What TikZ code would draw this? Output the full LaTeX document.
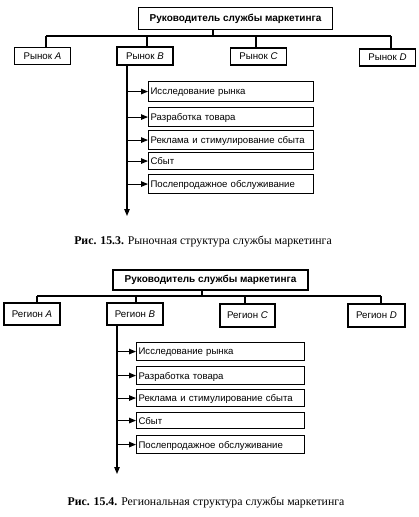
\documentclass[tikz,border=0pt]{standalone}
\usepackage{fontspec}
\setmainfont{Liberation Serif}
\setsansfont{Liberation Sans}
\usetikzlibrary{arrows.meta}
\tikzset{
  ln/.style={line width=1.1pt},
  headbox/.style={draw, line width=1.1pt, font=\sffamily\bfseries\fontsize{10}{12}\selectfont, inner sep=0pt},
  unitbox/.style={draw, line width=1.1pt, font=\sffamily\fontsize{9.7}{11}\selectfont, minimum width=56pt, minimum height=17pt, inner sep=0pt},
  subbox/.style={draw, line width=1.1pt, font=\sffamily\fontsize{9.6}{11}\selectfont, anchor=north west, inner sep=0pt, inner xsep=2pt, text depth=0pt, align=left},
  arr/.style={line width=1.1pt, -{Triangle[length=7pt,width=5.5pt]}},
  caption/.style={font=\fontsize{11.8}{14}\selectfont}
}
\begin{document}
\begin{tikzpicture}[x=1pt,y=-1pt]
\useasboundingbox (0,0) rectangle (419,517);
% ---------------- top diagram ----------------
\node[headbox, minimum width=194pt, minimum height=22pt] (h1) at (235.5,18.5) {Руководитель службы маркетинга};
\coordinate (h1d) at (213,36);
\coordinate (h1l) at (46,36);
\coordinate (h1r) at (391,36);
\node[unitbox] (ma) at (42.5,56) {Рынок \textit{A}};
\node[unitbox, minimum height=18pt] (mb) at (145,56) {Рынок \textit{B}};
\node[unitbox] (mc) at (258.5,56.5) {Рынок \textit{C}};
\node[unitbox] (md) at (387.5,57.5) {Рынок \textit{D}};
\draw[ln] (213,0 |- h1.south) -- (h1d);
\draw[ln] (h1l) -- (h1r);
\draw[ln] (h1l) -- (46,0 |- ma.north);
\draw[ln] (147,36) -- (147,0 |- mb.north);
\draw[ln] (256,36) -- (256,0 |- mc.north);
\draw[ln] (h1r) -- (391,0 |- md.north);
\coordinate (v1) at (127,0 |- mb.south);
\coordinate (v1e) at (127,216);
\draw[arr] (v1) -- (v1e);
\node[subbox, minimum width=165pt, text width=161pt, minimum height=20pt] (s11) at (148,81) {Исследование рынка};
\node[subbox, minimum width=165pt, text width=161pt, minimum height=19pt] (s12) at (148,107) {Разработка товара};
\node[subbox, minimum width=165pt, text width=161pt, minimum height=19pt] (s13) at (148,130) {Реклама и стимулирование сбыта};
\node[subbox, minimum width=165pt, text width=161pt, minimum height=17pt] (s14) at (148,152) {Сбыт};
\node[subbox, minimum width=165pt, text width=161pt, minimum height=19pt] (s15) at (148,174) {Послепродажное обслуживание};
\foreach \n in {s11,s12,s13,s14,s15}{
  \draw[arr] (127,0 |- \n.west) -- (\n.west);
}
\node[caption] (c1) at (203,242) {\textbf{Рис. 15.3.} Рыночная структура службы маркетинга};
% ---------------- bottom diagram ----------------
\node[headbox, minimum width=195pt, minimum height=20pt] (h2) at (210.5,280) {Руководитель службы маркетинга};
\coordinate (h2d) at (202,296);
\coordinate (h2l) at (37,296);
\coordinate (h2r) at (381,296);
\node[unitbox, minimum height=22pt] (ra) at (32,314) {Регион \textit{A}};
\node[unitbox, minimum height=22pt] (rb) at (135,314) {Регион \textit{B}};
\node[unitbox, minimum height=23pt, minimum width=55pt] (rc) at (247.5,315.5) {Регион \textit{C}};
\node[unitbox, minimum height=23pt, minimum width=57pt] (rd) at (376.5,315.5) {Регион \textit{D}};
\draw[ln] (202,0 |- h2.south) -- (h2d);
\draw[ln] (h2l) -- (h2r);
\draw[ln] (h2l) -- (37,0 |- ra.north);
\draw[ln] (136,296) -- (136,0 |- rb.north);
\draw[ln] (245,296) -- (245,0 |- rc.north);
\draw[ln] (h2r) -- (381,0 |- rd.north);
\coordinate (v2) at (117,0 |- rb.south);
\coordinate (v2e) at (117,474);
\draw[arr] (v2) -- (v2e);
\node[subbox, minimum width=168pt, text width=164pt, minimum height=18pt] (s21) at (136,342) {Исследование рынка};
\node[subbox, minimum width=168pt, text width=164pt, minimum height=18pt] (s22) at (136,366) {Разработка товара};
\node[subbox, minimum width=168pt, text width=164pt, minimum height=17pt] (s23) at (136,389) {Реклама и стимулирование сбыта};
\node[subbox, minimum width=168pt, text width=164pt, minimum height=16pt] (s24) at (136,412) {Сбыт};
\node[subbox, minimum width=168pt, text width=164pt, minimum height=18pt] (s25) at (136,435) {Послепродажное обслуживание};
\foreach \n in {s21,s22,s23,s24,s25}{
  \draw[arr] (117,0 |- \n.west) -- (\n.west);
}
\node[caption] (c2) at (206,503) {\textbf{Рис. 15.4.} Региональная структура службы маркетинга};
\end{tikzpicture}
\end{document}
